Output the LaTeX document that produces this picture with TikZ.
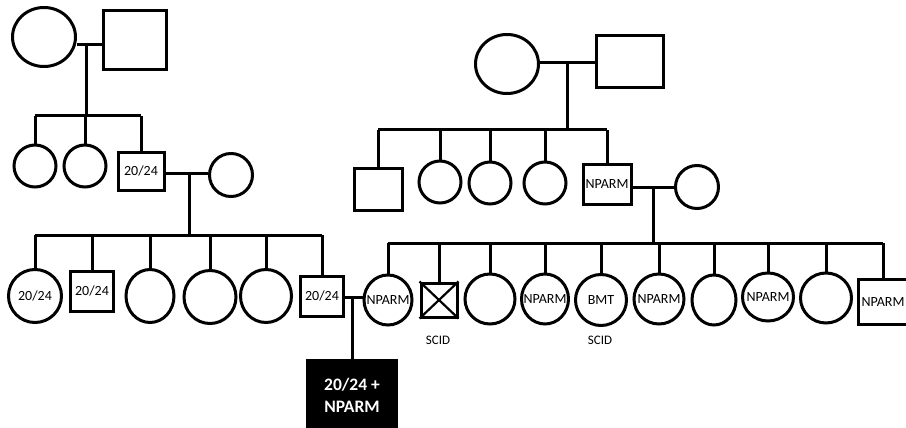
\documentclass[tikz,border=0pt]{standalone}
\usepackage{fontspec}
\setmainfont{Carlito}
\usetikzlibrary{shapes.geometric}
\newcommand{\zw}[1]{\makebox[0pt]{#1}}
\begin{document}
\begin{tikzpicture}[x=1pt,y=-1pt,line width=3pt,
  fem/.style={draw,ellipse,inner sep=0pt,font=\fontsize{14}{16}\selectfont},
  mal/.style={draw,rectangle,inner sep=0pt,font=\fontsize{14}{16}\selectfont},
  lbl/.style={inner sep=0pt,font=\fontsize{13}{15}\selectfont},
  proband/.style={draw,fill=black,rectangle,inner sep=0pt,text=white,align=center,
    font=\fontsize{17.5}{22}\selectfont\bfseries}]
\useasboundingbox (0,0) rectangle (906,428);

% ---- left grandparents
\node[fem,minimum width=63,minimum height=59] (gm1) at (44,37) {};
\node[mal,minimum width=63,minimum height=59] (gf1) at (135,40) {};
\coordinate (m1) at (86,45);
\draw (gm1.east |- m1) -- (gf1.west |- m1);
\node[fem,minimum size=42] (a1) at (35,166) {};
\node[fem,minimum size=42] (a2) at (85,166) {};
\node[mal,minimum width=46,minimum height=38] (a3) at (141,171) {20/24};
\coordinate (s1) at (86,116);
\draw (m1) -- (s1);
\draw (a1.north |- s1) -- (a3.north |- s1);
\foreach \n in {a1,a2,a3} \draw (\n.north) -- (\n.north |- s1);
\node[fem,minimum size=43] (a4) at (231,175) {};
\coordinate (m2) at (189,173);
\draw (a3.east |- m2) -- (a4.west |- m2);

% ---- left generation 3
\node[fem,minimum width=53,minimum height=53] (b1) at (35,296) {\zw{20/24}};
\node[mal,minimum width=43,minimum height=40] (b2) at (92,291) {20/24};
\node[fem,minimum width=48,minimum height=53] (b3) at (150,296) {};
\node[fem,minimum width=52,minimum height=53] (b4) at (210,297) {};
\node[fem,minimum width=51,minimum height=53] (b5) at (266,296) {};
\node[mal,minimum width=43,minimum height=40] (b6) at (322,296) {20/24};
\coordinate (s2) at (189,235);
\draw (m2) -- (s2);
\draw (b1.north |- s2) -- (b6.north |- s2);
\foreach \n in {b1,b2,b3,b4,b5,b6} \draw (\n.north) -- (\n.north |- s2);

% ---- right grandparents
\node[fem,minimum width=63,minimum height=59] (gm2) at (507,64) {};
\node[mal,minimum width=67,minimum height=52] (gf2) at (630,62) {};
\coordinate (m3) at (567,63);
\draw (gm2.east |- m3) -- (gf2.west |- m3);
\node[mal,minimum width=48,minimum height=42] (r1) at (378,189) {};
\node[fem,minimum size=42] (r2) at (440,182) {};
\node[fem,minimum size=42] (r3) at (490,183) {};
\node[fem,minimum size=42] (r4) at (545,183) {};
\node[mal,minimum width=48,minimum height=40] (r5) at (607,184) {NPARM};
\coordinate (s3) at (567,130);
\draw (m3) -- (s3);
\draw (r1.north |- s3) -- (r5.north |- s3);
\foreach \n in {r1,r2,r3,r4,r5} \draw (\n.north) -- (\n.north |- s3);
\node[fem,minimum size=43] (r6) at (697,187) {};
\coordinate (m4) at (653,187);
\draw (r5.east |- m4) -- (r6.west |- m4);

% ---- right generation 3
\node[fem,minimum width=48,minimum height=50] (c1) at (388,300) {\zw{NPARM}};
\node[mal,minimum width=36,minimum height=34] (c2) at (439,300) {};
\draw[line width=2.2pt] (c2.north west) -- (c2.south east) (c2.north east) -- (c2.south west);
\node[fem,minimum width=50,minimum height=50] (c3) at (490,299) {};
\node[fem,minimum width=47,minimum height=50] (c4) at (545,299) {\zw{NPARM}};
\node[fem,minimum width=51,minimum height=51] (c5) at (601,300) {\zw{BMT}};
\node[fem,minimum width=50,minimum height=50] (c6) at (659,299) {\zw{NPARM}};
\node[fem,minimum width=44,minimum height=50] (c7) at (714,300) {};
\node[fem,minimum width=51,minimum height=48] (c8) at (768,297) {\zw{NPARM}};
\node[fem,minimum width=51,minimum height=50] (c9) at (826,298) {};
\node[mal,minimum width=50,minimum height=45] (c10) at (883,302) {NPARM};
\coordinate (s4) at (653,243);
\draw (m4) -- (s4);
\draw (c1.north |- s4) -- (c10.north |- s4);
\foreach \n in {c1,c2,c3,c4,c5,c6,c7,c8,c9,c10} \draw (\n.north) -- (\n.north |- s4);
\node[lbl] (l1) at (438,340) {SCID};
\node[lbl] (l2) at (600,340) {SCID};

% ---- proband
\coordinate (m5) at (352,297);
\draw (b6.east |- m5) -- (c1.west |- m5);
\node[proband,minimum width=89,minimum height=70,anchor=north] (p) at (352,359) {20/24 +\\NPARM};
\draw (m5) -- (p.north);
\end{tikzpicture}
\end{document}
